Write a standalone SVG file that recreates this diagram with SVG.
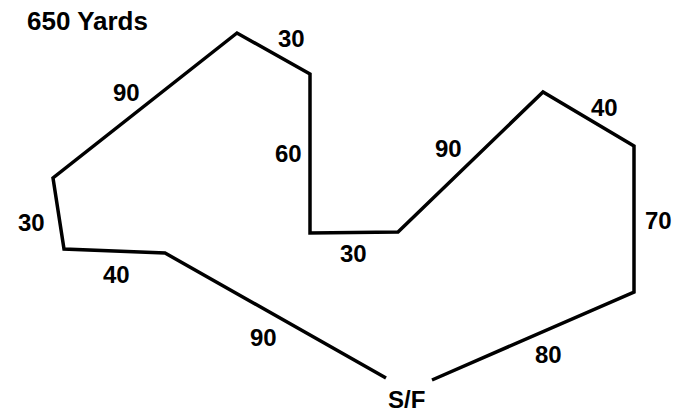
<svg xmlns="http://www.w3.org/2000/svg" width="681" height="414" viewBox="0 0 681 414">
<style>
.t{font-family:"Liberation Sans",Arial,sans-serif;font-weight:bold;font-size:24px;fill:#000}
.c{fill:none;stroke:#000;stroke-width:3.5;stroke-linejoin:miter}
</style>
<rect width="681" height="414" fill="#fff"/>
<g id="connectors">
<polyline class="c" points="386,378 165,253 64,249 53,178 237,33 310,74 310,233 398,232 543,92 634,146 634,292 432,380"/>
</g>
<g id="title"><text class="t" x="27" y="30" style="font-size:26px">650 Yards</text></g>
<g id="labels">
<text class="t" x="278" y="47">30</text>
<text class="t" x="113" y="101">90</text>
<text class="t" x="275" y="162">60</text>
<text class="t" x="18" y="231">30</text>
<text class="t" x="103" y="283">40</text>
<text class="t" x="340" y="262">30</text>
<text class="t" x="250" y="346">90</text>
<text class="t" x="388" y="408">S/F</text>
<text class="t" x="435" y="157">90</text>
<text class="t" x="591" y="116">40</text>
<text class="t" x="645" y="229">70</text>
<text class="t" x="535" y="363">80</text>
</g>
</svg>
